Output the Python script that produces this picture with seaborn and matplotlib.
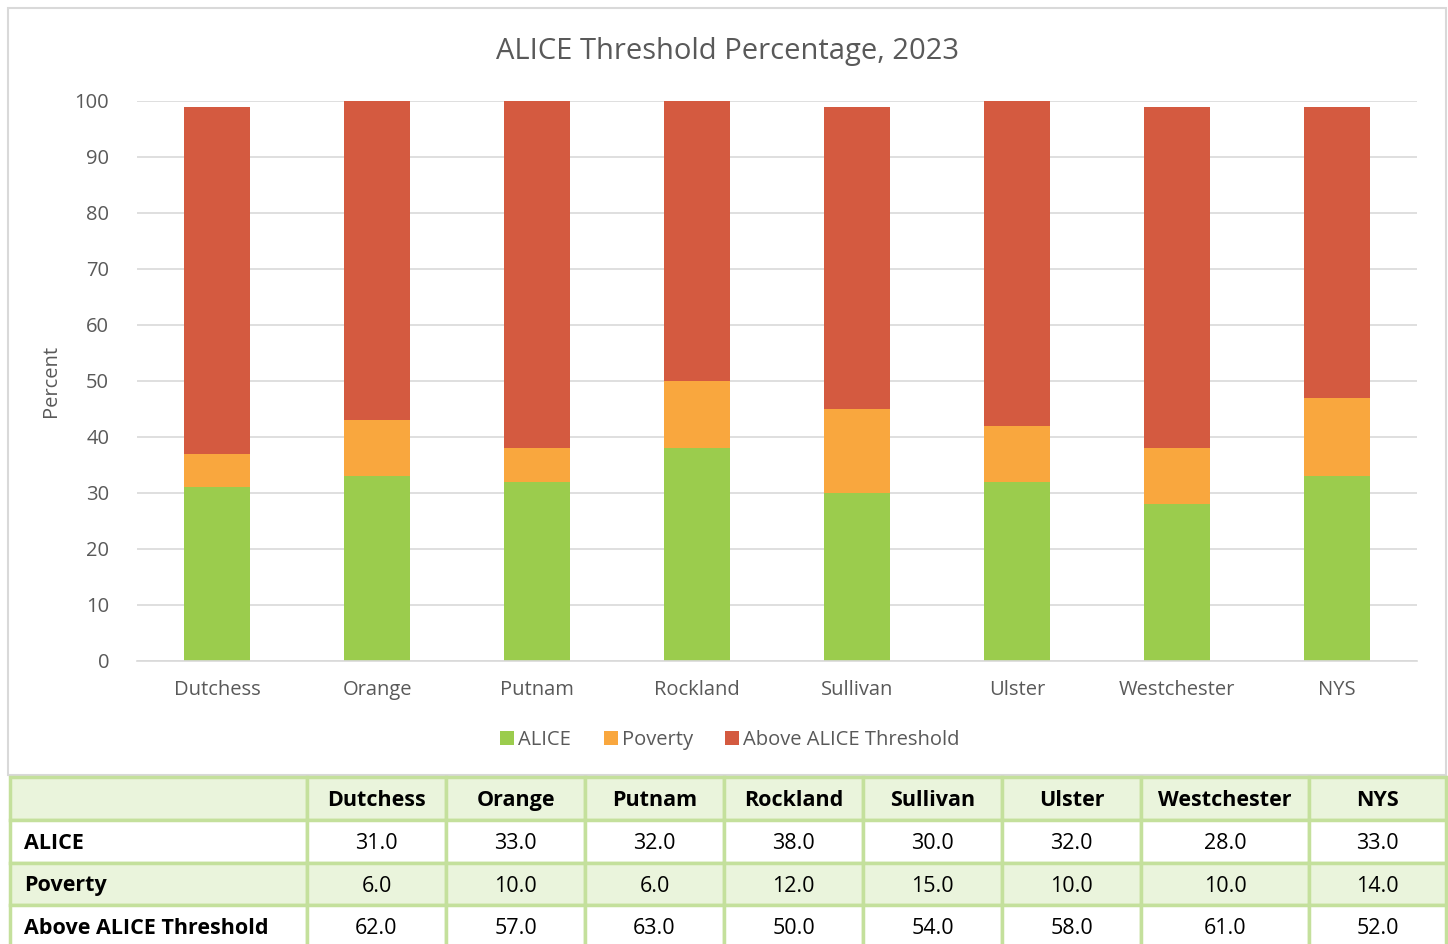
import numpy as np
import pandas as pd
import matplotlib
matplotlib.use("Agg")
import matplotlib.pyplot as plt
import seaborn as sns
from matplotlib.patches import Rectangle

sns.set_theme(style="white")
plt.rcParams['font.family'] = ['Open Sans', 'DejaVu Sans']

# Data
regions = ['Dutchess', 'Orange', 'Putnam', 'Rockland', 'Sullivan', 'Ulster', 'Westchester', 'NYS']
alice = [31.0, 33.0, 32.0, 38.0, 30.0, 32.0, 28.0, 33.0]
poverty = [6.0, 10.0, 6.0, 12.0, 15.0, 10.0, 10.0, 14.0]
above = [62.0, 57.0, 63.0, 50.0, 54.0, 58.0, 61.0, 52.0]
series_names = ['ALICE', 'Poverty', 'Above ALICE Threshold']
colors = ['#9BCC4D', '#F9A73E', '#D45A40']

df = pd.DataFrame({'region': regions, 'ALICE': alice, 'Poverty': poverty,
                   'Above ALICE Threshold': above})

W, H = 1448, 944
fig = plt.figure(figsize=(W / 100, H / 100), dpi=100)

# chart frame
frame = fig.add_axes([0, 0, 1, 1], zorder=-1)
frame.set_xlim(0, W)
frame.set_ylim(H, 0)
frame.axis('off')
frame.add_patch(Rectangle((8, 8), 1438, 767, fill=False, edgecolor='#D9D9D9', lw=1.5))

ax = fig.add_axes([137 / W, 1 - 661 / H, 1280 / W, 560 / H])
bottom = np.zeros(len(regions))
for name, col in zip(series_names, colors):
    sns.barplot(data=df, x='region', y=name, color=col, width=0.41, bottom=bottom,
                ax=ax, label=name, saturation=1, linewidth=0)
    bottom = bottom + df[name].values
handles, labels = ax.get_legend_handles_labels()
if ax.get_legend() is not None:
    ax.get_legend().remove()

ax.set_ylim(0, 100)
ax.set_xlim(-0.5, len(regions) - 0.5)
ax.set_yticks(range(0, 101, 10))
ax.yaxis.grid(True, color='#D9D9D9', lw=1.2)
ax.set_axisbelow(True)
for s in ['top', 'right', 'left']:
    ax.spines[s].set_visible(False)
ax.spines['bottom'].set_color('#D9D9D9')
ax.spines['bottom'].set_linewidth(1.2)
ax.tick_params(axis='both', length=0, labelsize=14.5, colors='#595959')
ax.tick_params(axis='y', pad=20)
ax.tick_params(axis='x', pad=14)
ax.set_xlabel('')
ax.set_ylabel('Percent', fontsize=14.5, color='#595959', labelpad=10)

fig.text(727 / W, 1 - 51 / H, 'ALICE Threshold Percentage, 2023', ha='center', va='center',
         fontsize=21, color='#595959')

fig.legend(handles, labels, loc='center', bbox_to_anchor=(730 / W, 1 - 740 / H), ncol=3,
           frameon=False, fontsize=14.5, handlelength=0.7, handleheight=0.7,
           handletextpad=0.2, columnspacing=1.6, labelcolor='#595959')

# data table below the chart
col_edges = [10, 307, 446, 585, 724, 863, 1002, 1141, 1309, 1446]
row_edges = [777, 820, 863, 905, 948]
fill = '#EAF4DC'
edge = '#C4E09C'
rows = [[''] + regions] + [[n] + [f'{v:.1f}' for v in vals]
                            for n, vals in zip(series_names, [alice, poverty, above])]
for r, row in enumerate(rows):
    y0, y1 = row_edges[r], row_edges[r + 1]
    fc = fill if r in (0, 2) else 'white'
    for c, txt in enumerate(row):
        x0, x1 = col_edges[c], col_edges[c + 1]
        frame.add_patch(Rectangle((x0, y0), x1 - x0, y1 - y0, facecolor=fc,
                                  edgecolor=edge, lw=2.5))
        ym = (y0 + y1) / 2 + 2
        if c == 0:
            frame.text(x0 + 14, ym, txt, ha='left', va='center', fontsize=15.5,
                       fontweight='bold', color='black')
        else:
            frame.text((x0 + x1) / 2, ym, txt, ha='center', va='center',
                       fontsize=15.5, fontweight='bold' if r == 0 else 'normal', color='black')

fig.savefig('out.png', dpi=100)
